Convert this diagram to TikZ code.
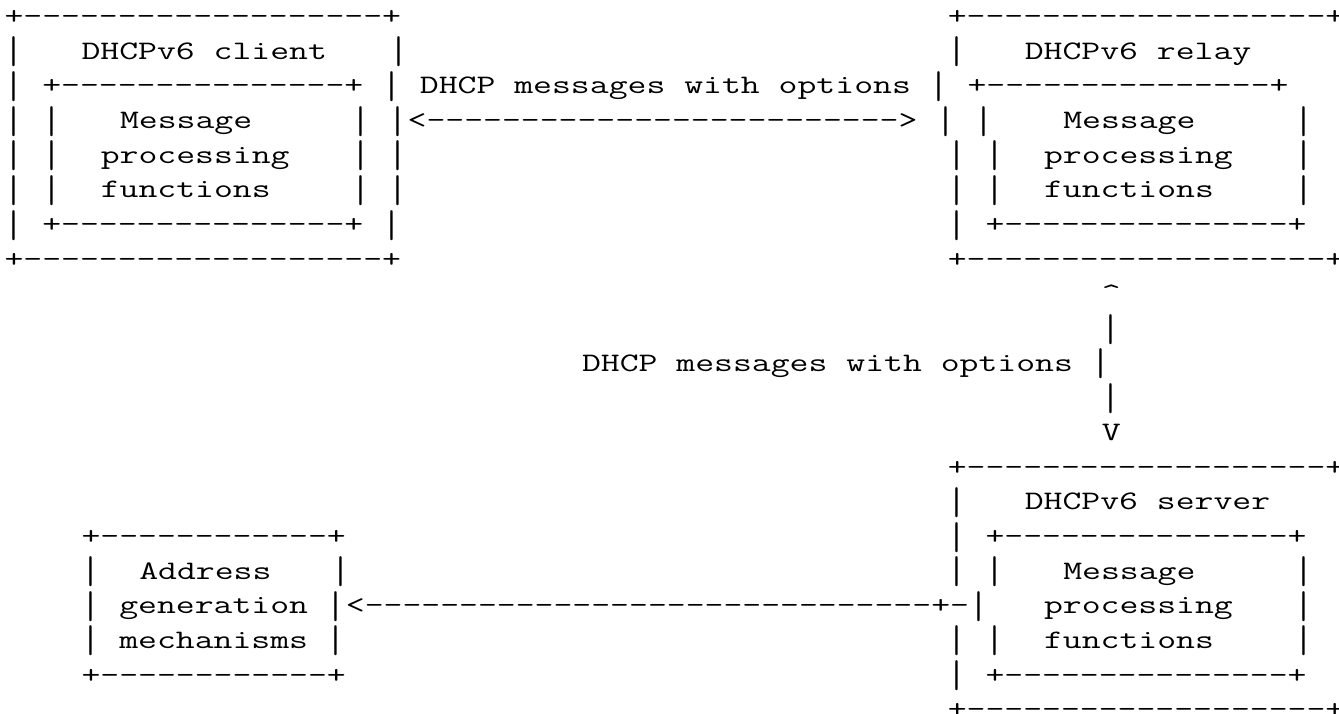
\documentclass[tikz,border=0pt]{standalone}
\usepackage{graphicx}
\newcommand\hr[1]{\foreach\i in {1,...,#1}{-\kern0pt}}
\newcommand\vb{\raisebox{-4.6pt}{\scalebox{1}[1.45]{|}}}
\tikzset{
  cell/.style={anchor=base west, inner sep=0pt, outer sep=0pt,
    font=\fontsize{26.7}{26.7}\selectfont\ttfamily}
}
\newcommand\seg[4]{\node[cell] (#1) at ({4.5+19.25*#2},{-(24.5+34.66*#3)}) {\scalebox{1.3733}[1]{#4}};}
\begin{document}
\begin{tikzpicture}[x=1pt,y=1pt]
\useasboundingbox (0,0) rectangle (1339,-713);
\clip (0,0) rectangle (1339,-713);
% row 0
\seg{a0}{0}{0}{+\hr{19}+}
\seg{b0}{49}{0}{+\hr{19}+}
% row 1
\seg{a1l}{0}{1}{\vb}
\seg{client}{4}{1}{DHCPv6 client}
\seg{a1r}{20}{1}{\vb}
\seg{b1l}{49}{1}{\vb}
\seg{relay}{53}{1}{DHCPv6 relay}
% row 2
\seg{r2}{0}{2}{\vb{} +\hr{15}+ \vb{} DHCP messages with options \vb{} +\hr{15}+}
% row 3
\seg{a3l}{0}{3}{\vb{} \vb}
\seg{cmsg}{6}{3}{Message}
\seg{arrow1}{18}{3}{\vb{} \vb{}<\hr{25}> \vb{} \vb}
\seg{rmsg}{55}{3}{Message}
\seg{b3r}{67}{3}{\vb}
% row 4
\seg{a4l}{0}{4}{\vb{} \vb}
\seg{cproc}{5}{4}{processing}
\seg{a4r}{18}{4}{\vb{} \vb}
\seg{b4l}{49}{4}{\vb{} \vb}
\seg{rproc}{54}{4}{processing}
\seg{b4r}{67}{4}{\vb}
% row 5
\seg{a5l}{0}{5}{\vb{} \vb}
\seg{cfun}{5}{5}{functions}
\seg{a5r}{18}{5}{\vb{} \vb}
\seg{b5l}{49}{5}{\vb{} \vb}
\seg{rfun}{54}{5}{functions}
\seg{b5r}{67}{5}{\vb}
% row 6
\seg{a6}{0}{6}{\vb{} +\hr{15}+ \vb}
\seg{b6}{49}{6}{\vb{} +\hr{15}+}
% row 7
\seg{a7}{0}{7}{+\hr{19}+}
\seg{b7}{49}{7}{+\hr{19}+}
% vertical arrow
\seg{up}{57}{8}{\textasciicircum}
\seg{v9}{57}{9}{\vb}
\seg{lab2}{30}{10}{DHCP messages with options \vb}
\seg{v11}{57}{11}{\vb}
\seg{down}{57}{12}{V}
% server box
\seg{s13}{49}{13}{+\hr{19}+}
\seg{s14l}{49}{14}{\vb}
\seg{server}{53}{14}{DHCPv6 server}
\seg{addr15}{4}{15}{+\hr{12}+}
\seg{s15}{49}{15}{\vb{} +\hr{15}+}
\seg{addr16l}{4}{16}{\vb}
\seg{addrtxt}{7}{16}{Address}
\seg{addr16r}{17}{16}{\vb}
\seg{s16l}{49}{16}{\vb{} \vb}
\seg{smsg}{55}{16}{Message}
\seg{s16r}{67}{16}{\vb}
\seg{arrow2}{4}{17}{\vb{} generation \vb{}<\hr{30}+-\vb}
\seg{sproc}{54}{17}{processing}
\seg{s17r}{67}{17}{\vb}
\seg{addr18}{4}{18}{\vb{} mechanisms \vb}
\seg{s18l}{49}{18}{\vb{} \vb}
\seg{sfun}{54}{18}{functions}
\seg{s18r}{67}{18}{\vb}
\seg{addr19}{4}{19}{+\hr{12}+}
\seg{s19}{49}{19}{\vb{} +\hr{15}+}
\seg{s20}{49}{20}{+\hr{19}+}
\end{tikzpicture}
\end{document}
